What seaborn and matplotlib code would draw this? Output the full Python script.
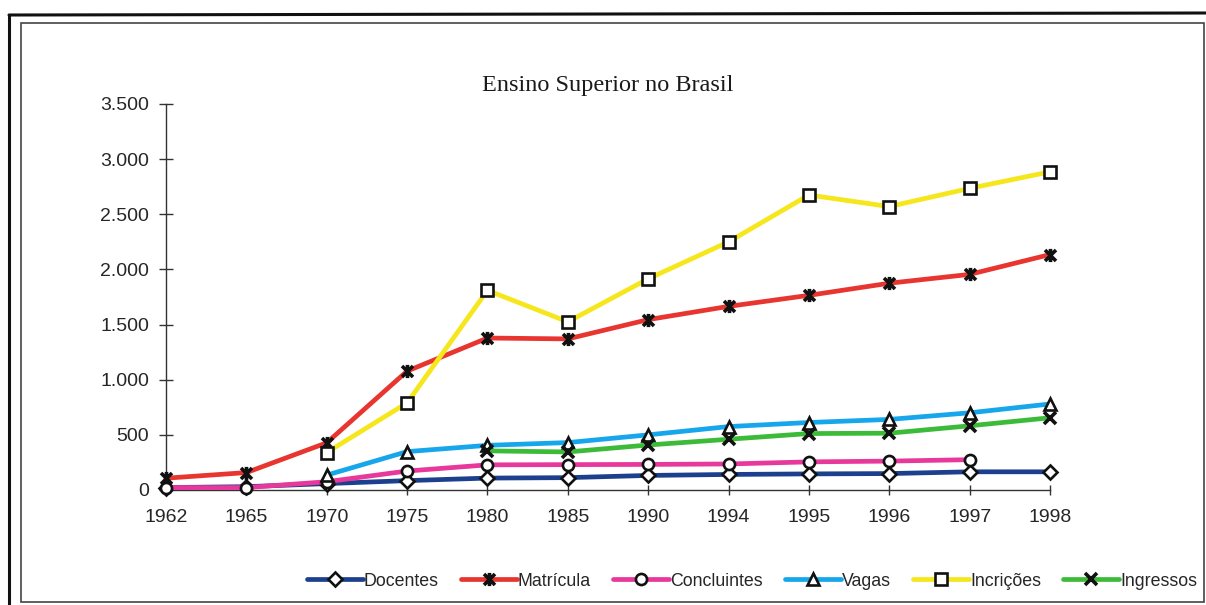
import numpy as np
import pandas as pd
import matplotlib
matplotlib.use("Agg")
import matplotlib.pyplot as plt
import seaborn as sns
from matplotlib.path import Path
from matplotlib.patches import Rectangle
from matplotlib.lines import Line2D
from matplotlib.ticker import FuncFormatter, FixedLocator

years = ["1962", "1965", "1970", "1975", "1980", "1985", "1990", "1994", "1995", "1996", "1997", "1998"]
docentes = [22, 30, 58, 85, 108, 112, 132, 141, 146, 149, 165, 165]
matricula = [107, 158, 428, 1078, 1378, 1370, 1545, 1665, 1765, 1875, 1955, 2135]
concluintes = [22, 22, 75, 172, 228, 230, 232, 236, 255, 262, 275, np.nan]
vagas = [np.nan, np.nan, 135, 348, 405, 430, 500, 575, 612, 640, 700, 780]
incricoes = [np.nan, np.nan, 340, 790, 1810, 1525, 1915, 2250, 2675, 2570, 2735, 2885]
ingressos = [np.nan, np.nan, np.nan, np.nan, 355, 345, 408, 460, 512, 515, 582, 655]

names = ["Docentes", "Matrícula", "Concluintes", "Vagas", "Incrições", "Ingressos"]
series = [docentes, matricula, concluintes, vagas, incricoes, ingressos]
colors = ["#1c3f8e", "#e8352f", "#e8389c", "#16a6ec", "#f6e61c", "#3cbb38"]

star = Path([(-1, -1), (1, 1), (-1, 1), (1, -1), (0, -1.2), (0, 1.2)],
            [Path.MOVETO, Path.LINETO, Path.MOVETO, Path.LINETO, Path.MOVETO, Path.LINETO])
markers = ["D", star, "o", "^", "s", "x"]
msizes = [7, 9.5, 8, 8.5, 8.5, 8.5]

sns.set_style("white")
plt.rcParams["font.family"] = ["Liberation Sans", "DejaVu Sans"]

fig = plt.figure(figsize=(12.06, 6.05), dpi=100)
ax = fig.add_axes([166 / 1206, 1 - 490 / 605, (1050 - 166) / 1206, (490 - 104) / 605])

x = np.arange(len(years))
for name, vals, col, mk, ms in zip(names, series, colors, markers, msizes):
    df = pd.DataFrame({"x": x, "y": vals}).dropna()
    filled = mk not in (star, "x")
    sns.lineplot(data=df, x="x", y="y", ax=ax, color=col, linewidth=3.4,
                 marker=mk, markersize=ms,
                 markerfacecolor="white" if filled else "black",
                 markeredgecolor="#111111",
                 markeredgewidth=1.9 if filled else 2.6,
                 label=name, clip_on=False, zorder=3)

ax.set_xlim(0, len(years) - 1)
ax.set_ylim(0, 3500)
ax.xaxis.set_major_locator(FixedLocator(x))
ax.set_xticklabels(years)
ax.yaxis.set_major_locator(FixedLocator(np.arange(0, 3501, 500)))
ax.yaxis.set_major_formatter(FuncFormatter(lambda v, p: f"{int(v):,}".replace(",", ".")))
ax.set_xlabel("")
ax.set_ylabel("")

for s in ["top", "right"]:
    ax.spines[s].set_visible(False)
for s in ["left", "bottom"]:
    ax.spines[s].set_color("#333333")
    ax.spines[s].set_linewidth(1.0)

ax.tick_params(axis="y", direction="inout", length=10, width=1, color="#333333",
               labelsize=14, pad=7, left=True)
ax.tick_params(axis="x", direction="inout", length=7, width=1, color="#333333",
               labelsize=14, pad=10, bottom=True)

ax.set_title("Ensino Superior no Brasil", family=["Liberation Serif", "DejaVu Serif"],
             fontsize=17.5, pad=9, color="#1a1a1a")

leg = ax.legend(loc="center", bbox_to_anchor=(752 / 1206, 1 - 581 / 605),
                bbox_transform=fig.transFigure, ncol=6, frameon=False,
                handlelength=3.15, handletextpad=0.05, columnspacing=1.25,
                prop={"family": ["Liberation Sans"], "size": 12.8})

# double frame around chart
fig.patches.append(Rectangle((21 / 1206, 1 - 602 / 605), (1204 - 21) / 1206, (602 - 23) / 605,
                             transform=fig.transFigure, fill=False, edgecolor="#444444",
                             linewidth=1.2))
fig.lines.append(Line2D([9 / 1206, 9 / 1206], [0, 1 - 15 / 605], transform=fig.transFigure,
                        color="#111111", linewidth=2.2))
fig.lines.append(Line2D([9 / 1206, 1], [1 - 15 / 605, 1 - 13 / 605], transform=fig.transFigure,
                        color="#111111", linewidth=2.2))

fig.savefig("out.png", dpi=100, facecolor="white")
